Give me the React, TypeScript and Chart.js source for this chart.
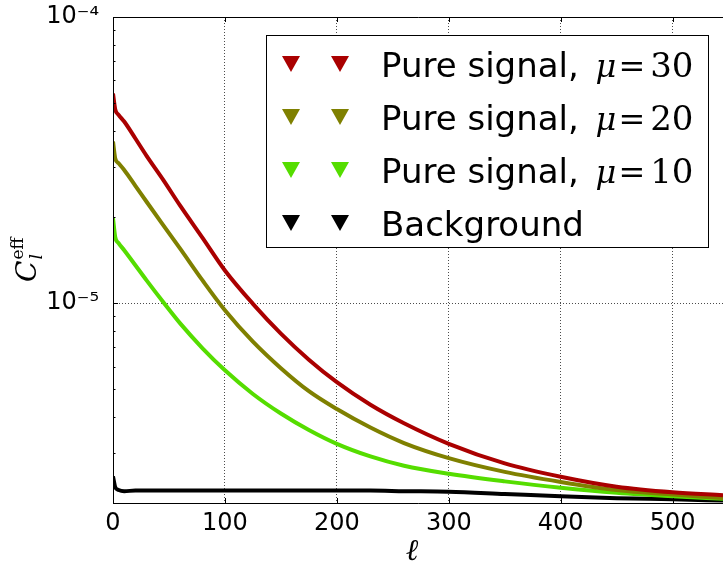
import React, { useEffect, useRef } from "react";
import { Chart, registerables } from "chart.js";

Chart.register(...registerables);

// multipole ℓ at which the curves were read
const ELL = [0, 2, 5, 10, 20, 30, 45, 60, 80, 100, 125, 150, 175, 200, 230, 260, 300, 350, 400, 450, 500, 545];
const SIGNAL_30 = [5.4e-5, 4.75e-5, 4.55e-5, 4.31e-5, 3.76e-5, 3.27e-5, 2.69e-5, 2.19e-5, 1.69e-5, 1.3e-5, 9.94e-6, 7.82e-6, 6.34e-6, 5.29e-6, 4.41e-6, 3.8e-6, 3.22e-6, 2.75e-6, 2.47e-6, 2.28e-6, 2.18e-6, 2.13e-6];
const SIGNAL_20 = [3.67e-5, 3.2e-5, 3.08e-5, 2.92e-5, 2.57e-5, 2.26e-5, 1.87e-5, 1.55e-5, 1.2e-5, 9.44e-6, 7.33e-6, 5.92e-6, 4.92e-6, 4.26e-6, 3.67e-6, 3.24e-6, 2.87e-6, 2.57e-6, 2.37e-6, 2.22e-6, 2.14e-6, 2.08e-6];
const SIGNAL_10 = [1.98e-5, 1.7e-5, 1.62e-5, 1.53e-5, 1.356e-5, 1.2e-5, 1.006e-5, 8.49e-6, 6.95e-6, 5.82e-6, 4.81e-6, 4.11e-6, 3.6e-6, 3.22e-6, 2.91e-6, 2.7e-6, 2.53e-6, 2.38e-6, 2.26e-6, 2.17e-6, 2.11e-6, 2.07e-6];
const BACKGROUND = [2.48e-6, 2.27e-6, 2.22e-6, 2.2e-6, 2.21e-6, 2.21e-6, 2.21e-6, 2.21e-6, 2.21e-6, 2.21e-6, 2.21e-6, 2.21e-6, 2.21e-6, 2.21e-6, 2.21e-6, 2.2e-6, 2.19e-6, 2.15e-6, 2.11e-6, 2.08e-6, 2.06e-6, 2.04e-6];

const SERIES = [SIGNAL_30, SIGNAL_20, SIGNAL_10, BACKGROUND];
const SERIES_COLORS = ["#aa0000", "#7f8000", "#55dd00", "#000000"];
const LEGEND_PREFIX = ["Pure signal, ", "Pure signal, ", "Pure signal, ", "Background"];
const LEGEND_MU = ["30", "20", "10", ""];

const X_TICKS = [0, 100, 200, 300, 400, 500];
const Y_TICKS = [1e-5, 1e-4];
const Y_TICK_LABELS = ["10⁻⁵", "10⁻⁴"];
const X_TITLE = "ℓ";

const decor = {
  id: "decor",
  afterDraw(chart: any) {
    const ctx = chart.ctx as CanvasRenderingContext2D;
    const { left, right, top, bottom } = chart.chartArea;
    const xs = chart.scales.x;
    const ys = chart.scales.y;
    ctx.save();
    // inward ticks
    ctx.strokeStyle = "#000";
    ctx.lineWidth = 1;
    ctx.beginPath();
    X_TICKS.forEach((v) => {
      const px = Math.round(xs.getPixelForValue(v)) + 0.5;
      ctx.moveTo(px, bottom);
      ctx.lineTo(px, bottom - 5);
      ctx.moveTo(px, top);
      ctx.lineTo(px, top + 5);
    });
    for (let e = -6; e <= -5; e++) {
      for (let m = 1; m <= 9; m++) {
        const v = m * Math.pow(10, e);
        if (v < ys.min || v > ys.max) continue;
        const py = Math.round(ys.getPixelForValue(v)) + 0.5;
        const len = m === 1 ? 5 : 2.5;
        ctx.moveTo(left, py);
        ctx.lineTo(left + len, py);
      }
    }
    ctx.stroke();
    // frame
    ctx.beginPath();
    ctx.moveTo(right, top + 0.5);
    ctx.lineTo(left + 0.5, top + 0.5);
    ctx.lineTo(left + 0.5, bottom + 0.5);
    ctx.lineTo(right, bottom + 0.5);
    ctx.stroke();

    // y title  C_l^eff
    ctx.fillStyle = "#000";
    ctx.translate(36, 282);
    ctx.rotate(-Math.PI / 2);
    ctx.textBaseline = "alphabetic";
    ctx.textAlign = "left";
    ctx.font = "italic 28px 'DejaVu Serif'";
    ctx.fillText("C", 0, 0);
    const cw = ctx.measureText("C").width;
    ctx.font = "italic 17px 'DejaVu Serif'";
    ctx.fillText("l", cw + 1, 6);
    ctx.font = "17px 'DejaVu Serif'";
    ctx.fillText("eff", cw + 1, -13);
    ctx.setTransform(1, 0, 0, 1, 0, 0);

    // x title
    ctx.font = "italic 30px 'DejaVu Serif'";
    ctx.textAlign = "center";
    ctx.fillText(X_TITLE, 412, 560);

    // legend
    const bx = 266, by = 35, bw = 442, bh = 212;
    ctx.fillStyle = "#fff";
    ctx.fillRect(bx, by, bw, bh);
    ctx.strokeStyle = "#000";
    ctx.strokeRect(bx + 0.5, by + 0.5, bw, bh);
    ctx.textAlign = "left";
    LEGEND_PREFIX.forEach((txt, i) => {
      const cy = 64 + i * 53;
      ctx.fillStyle = SERIES_COLORS[i];
      [291, 340].forEach((cx) => {
        ctx.beginPath();
        ctx.moveTo(cx - 9, cy - 8);
        ctx.lineTo(cx + 9, cy - 8);
        ctx.lineTo(cx, cy + 8);
        ctx.closePath();
        ctx.fill();
      });
      ctx.fillStyle = "#000";
      ctx.font = "34px 'DejaVu Sans'";
      const tx = 381;
      ctx.fillText(txt, tx, cy + 13);
      if (LEGEND_MU[i]) {
        let x = tx + ctx.measureText(txt).width + 6;
        ctx.font = "italic 32px 'DejaVu Serif'";
        ctx.fillText("μ", x, cy + 13);
        x += ctx.measureText("μ").width + 2;
        ctx.font = "32px 'DejaVu Serif'";
        ctx.fillText("=", x, cy + 13);
        x += ctx.measureText("=").width + 5;
        ctx.font = "34px 'DejaVu Serif'";
        ctx.fillText(LEGEND_MU[i], x, cy + 13);
      }
    });
    ctx.restore();
  },
};

export default function App() {
  const ref = useRef<HTMLCanvasElement>(null);
  useEffect(() => {
    if (!ref.current) return;
    const chart = new Chart(ref.current, {
      type: "line",
      data: {
        datasets: SERIES.map((arr, i) => ({
          label: LEGEND_PREFIX[i] + LEGEND_MU[i],
          data: ELL.map((x, j) => ({ x, y: arr[j] })),
          borderColor: SERIES_COLORS[i],
          backgroundColor: SERIES_COLORS[i],
          borderWidth: 4,
          pointStyle: "triangle",
          rotation: 180,
          pointRadius: 0,
          cubicInterpolationMode: "monotone",
          fill: false,
        })),
      },
      options: {
        animation: false,
        responsive: false,
        layout: { padding: { top: 17, right: 0, left: 0, bottom: 0 } },
        plugins: { legend: { display: false }, tooltip: { enabled: false } },
        scales: {
          x: {
            type: "linear",
            min: 0,
            max: 545,
            afterBuildTicks: (s: any) => {
              s.ticks = X_TICKS.map((v) => ({ value: v }));
            },
            afterFit: (s: any) => {
              s.height = 68;
              s.paddingLeft = 0;
              s.paddingRight = 0;
            },
            grid: { color: "rgba(0,0,0,0.7)", lineWidth: 1, drawTicks: false },
            border: { display: false, dash: [1, 2] },
            ticks: {
              color: "#000",
              font: { family: "'DejaVu Sans'", size: 24 },
              padding: 6,
              maxRotation: 0,
              autoSkip: false,
            },
          },
          y: {
            type: "logarithmic",
            min: 2e-6,
            max: 1e-4,
            afterBuildTicks: (s: any) => {
              s.ticks = Y_TICKS.map((v) => ({ value: v }));
            },
            afterFit: (s: any) => {
              s.width = 113;
              s.paddingTop = 0;
              s.paddingBottom = 0;
            },
            grid: { color: "rgba(0,0,0,0.7)", lineWidth: 1, drawTicks: false },
            border: { display: false, dash: [1, 2] },
            ticks: {
              color: "#000",
              font: { family: "'DejaVu Sans'", size: 24 },
              padding: 14,
              autoSkip: false,
              callback: (v: any) => {
                const idx = Y_TICKS.findIndex((t) => Math.abs(Math.log10(t) - Math.log10(v)) < 1e-6);
                return idx >= 0 ? Y_TICK_LABELS[idx] : "";
              },
            },
          },
        },
      },
      plugins: [decor],
    } as any);
    return () => chart.destroy();
  }, []);
  return (
    <div style={{ position: "fixed", left: 0, top: 0, width: 723, height: 571, background: "#fff" }}>
      <canvas ref={ref} width={723} height={571} />
    </div>
  );
}
